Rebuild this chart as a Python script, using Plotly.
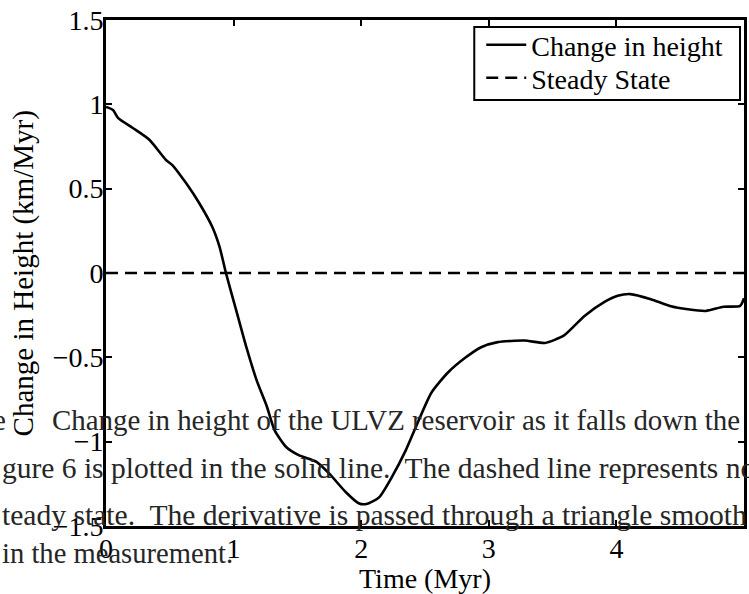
import plotly.graph_objects as go

# ---- data ----
time_myr = [0.0, 0.055, 0.094, 0.21, 0.34, 0.47, 0.52, 0.63, 0.73, 0.835, 0.89, 0.94,
            1.02, 1.10, 1.18, 1.26, 1.32, 1.41, 1.51, 1.65, 1.75, 1.88, 1.98, 2.04,
            2.14, 2.24, 2.35, 2.43, 2.55, 2.68, 2.82, 2.94, 3.07, 3.28, 3.44, 3.59,
            3.75, 3.91, 4.01, 4.11, 4.27, 4.42, 4.56, 4.70, 4.84, 4.97, 5.0]
dh_dt = [0.985, 0.967, 0.92, 0.86, 0.79, 0.67, 0.64, 0.53, 0.415, 0.27, 0.155, 0.0,
         -0.22, -0.44, -0.635, -0.79, -0.93, -1.03, -1.08, -1.12, -1.19, -1.30, -1.365, -1.37,
         -1.33, -1.21, -1.05, -0.91, -0.71, -0.59, -0.50, -0.44, -0.41, -0.40, -0.415, -0.37,
         -0.255, -0.17, -0.135, -0.125, -0.155, -0.195, -0.215, -0.225, -0.20, -0.195, -0.15]
steady_x = [0, 5]
steady_y = [0, 0]

x_ticks = [0, 1, 2, 3, 4, 5]
y_ticks = [-1.5, -1, -0.5, 0, 0.5, 1, 1.5]

x_title = "Time (Myr)"
y_title = "Change in Height (km/Myr)"
series_names = ["Change in height", "Steady State"]

caption_lines = [
    "e",
    "Change in height of the ULVZ reservoir as it falls down the",
    "gure 6 is plotted in the solid line.\u00a0 The dashed line represents no",
    "teady state.\u00a0 The derivative is passed through a triangle smooth",
    "in the measurement.",
]

# ---- layout geometry (pixels) ----
W, H = 749, 594
ML, MR, MT, MB = 106, 2, 20, 68
PW, PH = W - ML - MR, H - MT - MB

def px(xp):
    return (xp - ML) / PW

def py(yp):
    return (H - MB - yp) / PH

FONT = "Liberation Serif, Times New Roman, serif"

fig = go.Figure()
fig.add_trace(go.Scatter(x=time_myr, y=dh_dt, mode="lines", name=series_names[0],
                         legend="legend",
                         line=dict(color="black", width=2.6, shape="spline", smoothing=0.6)))
fig.add_trace(go.Scatter(x=steady_x, y=steady_y, mode="lines", name=series_names[1],
                         legend="legend2",
                         line=dict(color="black", width=2.4, dash="12px,7px")))

axis_common = dict(showline=True, linecolor="black", linewidth=2.6, mirror="ticks",
                   ticks="inside", ticklen=6, tickwidth=2, tickcolor="black",
                   showgrid=False, zeroline=False,
                   tickfont=dict(family=FONT, size=28, color="black"))

fig.update_xaxes(range=[0, 5], tickvals=x_ticks,
                 title=dict(text=x_title, font=dict(family=FONT, size=28, color="black"), standoff=0),
                 ticklabelstandoff=-4, **axis_common)
fig.update_yaxes(range=[-1.5, 1.5], tickvals=y_ticks, ticklabelstandoff=-6, **axis_common)

annots = [dict(text=y_title, xref="paper", yref="paper", x=px(23), y=py(273),
               xanchor="center", yanchor="middle", textangle=-90, showarrow=False,
               font=dict(family=FONT, size=29, color="black"))]
# (x pixel, anchor, baseline pixel, font size)
cap_pos = [(8, "right", 430, 29), (50, "left", 430, 28.9), (-1, "left", 478, 29.5),
           (-1, "left", 525, 29.6), (-1, "left", 563, 28.6)]
for txt, (xp, anc, base, fs) in zip(caption_lines, cap_pos):
    annots.append(dict(text=txt, xref="paper", yref="paper", x=px(xp), y=py(base - 0.34 * fs),
                       xanchor=anc, yanchor="middle", showarrow=False,
                       font=dict(family=FONT, size=fs, color="#262626")))

leg_common = dict(xanchor="left", yanchor="middle", bgcolor="rgba(0,0,0,0)",
                  borderwidth=0, font=dict(family=FONT, size=28, color="black"),
                  itemwidth=40)

fig.update_layout(
    width=W, height=H,
    margin=dict(l=ML, r=MR, t=MT, b=MB, pad=0),
    paper_bgcolor="white", plot_bgcolor="white",
    showlegend=True,
    legend=dict(x=px(483), y=py(45), **leg_common),
    legend2=dict(x=px(483), y=py(78), **leg_common),
    shapes=[dict(type="rect", xref="paper", yref="paper",
                 x0=px(476), x1=px(743), y0=py(100), y1=py(27),
                 fillcolor="white", line=dict(color="black", width=2), layer="above")],
    annotations=annots,
)

fig.write_html("out.html", post_script="document.body.style.margin='0';",
               config={"displayModeBar": False})
